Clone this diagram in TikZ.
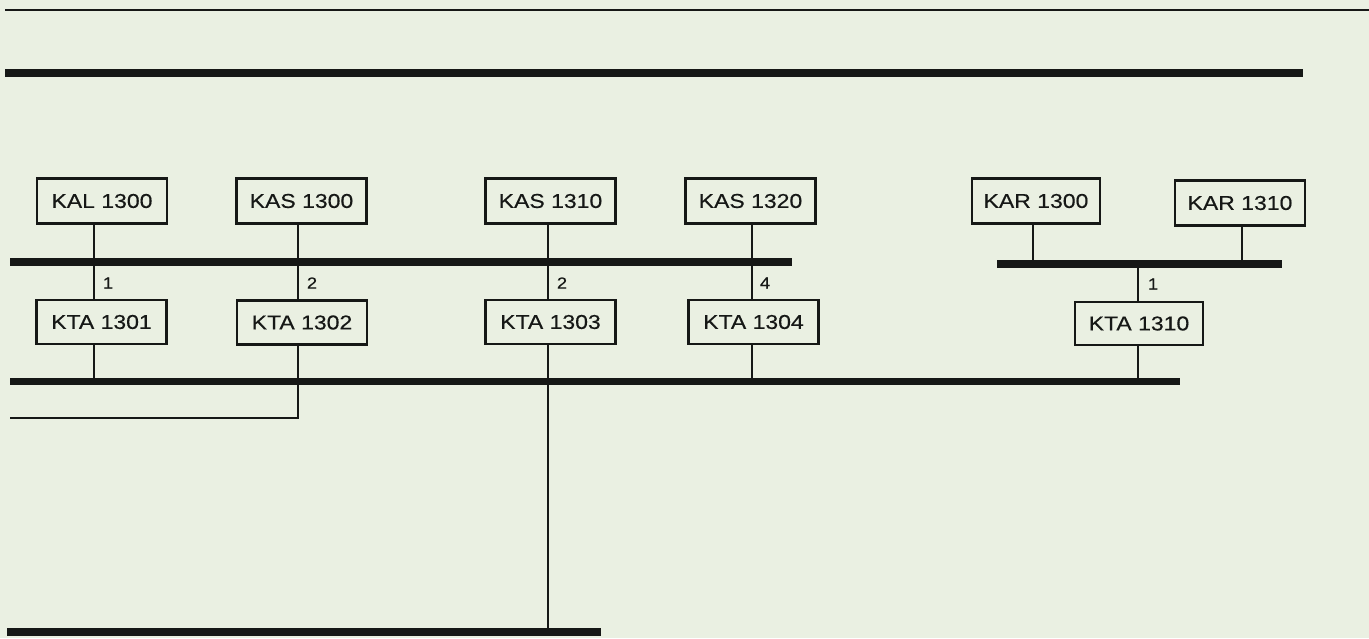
\documentclass[tikz,border=0pt]{standalone}
\usepackage{fontspec}
\newfontfamily\labfont[FakeStretch=1.15,FakeBold=0.4]{Liberation Sans}
\definecolor{bg}{RGB}{234,240,226}
\definecolor{ink}{RGB}{22,24,22}
\begin{document}
\begin{tikzpicture}[x=1pt,y=-1pt,
  box/.style={draw=ink,line width=2.2pt,fill=bg,inner sep=0pt,
    minimum width=130pt,minimum height=45pt,text=ink,
    font=\labfont\fontsize{20}{22}\selectfont},
  num/.style={text=ink,inner sep=0pt,font=\labfont\fontsize{16}{17}\selectfont},
  bus/.style={draw=ink,line width=7.5pt},
  wire/.style={draw=ink,line width=2.6pt}]
\fill[bg] (0,0) rectangle (1369,638);
\useasboundingbox (0,0) rectangle (1369,638);
% buses
\coordinate (t0) at (5,10);   \coordinate (t1) at (1369,10);
\coordinate (a0) at (5,73);   \coordinate (a1) at (1303,73);
\coordinate (b0) at (10,262); \coordinate (b1) at (792,262);
\coordinate (r0) at (997,264);\coordinate (r1) at (1282,264);
\coordinate (c0) at (10,381); \coordinate (c1) at (1180,381);
\coordinate (d0) at (7,632);  \coordinate (d1) at (601,632);
\coordinate (e0) at (10,418);
\draw[draw=ink,line width=2.8pt] (t0) -- (t1);
\draw[bus,line width=8.5pt] (a0) -- (a1);
\draw[bus] (b0) -- (b1);
\draw[bus] (r0) -- (r1);
\draw[bus,line width=7pt] (c0) -- (c1);
\draw[bus,line width=8.5pt] (d0) -- (d1);
% boxes
\node[box] (kal)  at (102,201)   {KAL 1300};
\node[box] (kas0) at (301.5,201) {KAS 1300};
\node[box] (kas1) at (550.5,201) {KAS 1310};
\node[box] (kas2) at (750.5,201) {KAS 1320};
\node[box,minimum width=128pt] (kar0) at (1036,201) {KAR 1300};
\node[box] (kar1) at (1240,203)  {KAR 1310};
\node[box,minimum height=44pt] (kta1) at (101.5,322) {KTA 1301};
\node[box,minimum height=44pt] (kta2) at (302,322.5) {KTA 1302};
\node[box,minimum height=44pt] (kta3) at (550.5,322) {KTA 1303};
\node[box,minimum height=44pt] (kta4) at (753.5,322) {KTA 1304};
\node[box,minimum width=128pt,minimum height=43pt] (kta10) at (1139,323.5) {KTA 1310};
% wires
\coordinate (k1) at (94,0);
\draw[wire] (kal.south -| k1) -- (kta1.north -| k1);
\draw[wire] (kta1.south -| k1) -- (c0 -| k1);
\coordinate (k2) at (298,0);
\draw[wire] (kas0.south -| k2) -- (kta2.north -| k2);
\draw[wire] (kta2.south -| k2) -- (e0 -| k2) -- (e0);
\coordinate (k3) at (548,0);
\draw[wire] (kas1.south -| k3) -- (kta3.north -| k3);
\draw[wire] (kta3.south -| k3) -- (d0 -| k3);
\coordinate (k4) at (752,0);
\draw[wire] (kas2.south -| k4) -- (kta4.north -| k4);
\draw[wire] (kta4.south -| k4) -- (c0 -| k4);
\coordinate (k5) at (1033,0);
\draw[wire] (kar0.south -| k5) -- (r0 -| k5);
\coordinate (k6) at (1242,0);
\draw[wire] (kar1.south -| k6) -- (r0 -| k6);
\coordinate (k7) at (1138,0);
\draw[wire] (r0 -| k7) -- (kta10.north -| k7);
\draw[wire] (kta10.south -| k7) -- (c0 -| k7);
% labels
\node[num] (n1) at (108,283) {1};
\node[num] (n2) at (312,283) {2};
\node[num] (n3) at (562,283) {2};
\node[num] (n4) at (765,283) {4};
\node[num] (n5) at (1153,284) {1};
\end{tikzpicture}
\end{document}
